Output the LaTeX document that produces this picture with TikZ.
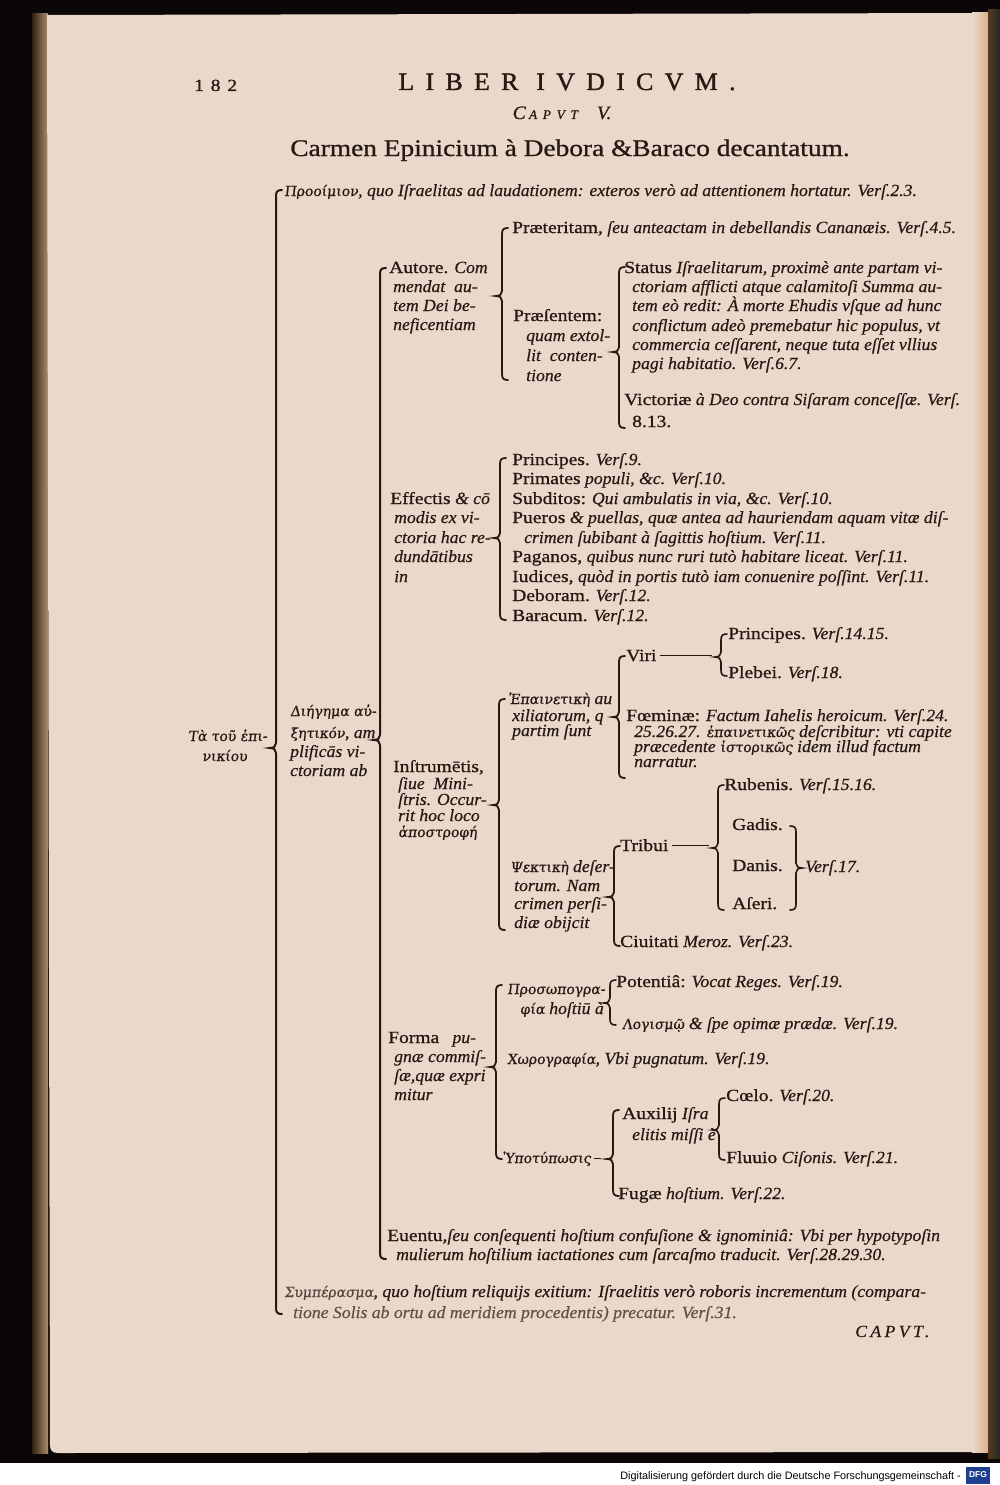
\documentclass[tikz,border=0pt]{standalone}
\usepackage{fontspec}
\setmainfont{Liberation Serif}[FakeStretch=1.04,FakeBold=0.5]
\newfontfamily\rmstr{Liberation Serif}[FakeStretch=1.15,FakeBold=0.9]
\newfontfamily\grk{DejaVu Serif}[FakeSlant=0.12,Scale=0.82,FakeBold=0.6]
\newfontfamily\dfgfont{Liberation Sans}
\newcommand\rr[1]{{\rmstr\upshape #1}}
\newcommand\gk[1]{{\grk\upshape #1}}
\definecolor{ink}{HTML}{261812}
\definecolor{paper}{HTML}{EAD8CA}
\definecolor{bgblack}{HTML}{0B0706}
\definecolor{dfgblue}{HTML}{1F3F8F}
\tikzset{
  t/.style={anchor=base west, inner sep=0pt, text=ink, font=\fontsize{17}{18}\selectfont\itshape},
  faded/.style={text=ink!70!paper},
  dl/.style={draw=ink, line width=1.2pt},
}
% left bracket: x, top, mid, bottom
\newcommand\brak[5][1.8pt]{\draw[line width=#1, draw=ink, line cap=round]
  (#2+6,#3) .. controls (#2+1.5,#3) and (#2,#3+1.5) .. (#2,#3+6) -- (#2,#4-5)
  .. controls (#2,#4-2) and (#2-2,#4) .. (#2-6,#4)
  .. controls (#2-2,#4) and (#2,#4+2) .. (#2,#4+5) -- (#2,#5-6)
  .. controls (#2,#5-1.5) and (#2+1.5,#5) .. (#2+6,#5);}
% right bracket: x, top, mid, bottom
\newcommand\rbrak[5][1.6pt]{\draw[line width=#1, draw=ink, line cap=round]
  (#2-6,#3) .. controls (#2-1.5,#3) and (#2,#3+1.5) .. (#2,#3+6) -- (#2,#4-5)
  .. controls (#2,#4-2) and (#2+2,#4) .. (#2+6,#4)
  .. controls (#2+2,#4) and (#2,#4+2) .. (#2,#4+5) -- (#2,#5-6)
  .. controls (#2,#5-1.5) and (#2-1.5,#5) .. (#2-6,#5);}
\begin{document}
\begin{tikzpicture}[x=1pt,y=-1pt]
\useasboundingbox (0,0) rectangle (1000,1485);
% ---- background, page, frame
\fill[bgblack] (0,0) rectangle (1000,1463);
\fill[white] (0,1463) rectangle (1000,1485);
\shade[left color=black!75!brown, right color=brown!45!paper!80!black] (32,14) rectangle (48,1453);
\fill[paper] (47,15) -- (986,13) -- (988,1452) -- (58,1453) .. controls (52,1453) and (50,1450) .. (50,1445) -- cycle;
\shade[left color=paper, right color=brown!45!paper] (972,13) rectangle (988,1452);
\shade[left color=brown!45!black, right color=black!85] (988,10) rectangle (1000,1458);
% ---- DFG strip
\node[anchor=base east, inner sep=0pt, font=\dfgfont\fontsize{10.8}{11}\selectfont] (dfgtxt) at (961,1479) {Digitalisierung gefördert durch die Deutsche Forschungsgemeinschaft -};
\node[fill=dfgblue, text=white, inner sep=0pt, minimum width=24pt, minimum height=17pt, font=\dfgfont\bfseries\fontsize{8.5}{8.5}\selectfont] (dfglogo) at (978,1475) {DFG};
% ---- header
\node[anchor=base west, inner sep=0pt, text=ink, font=\rmstr\fontsize{17}{17}\selectfont\addfontfeatures{LetterSpace=40}] (pagenum) at (194,91) {182};
\node[anchor=base, inner sep=0pt, text=ink, font=\fontsize{25}{25}\selectfont\addfontfeatures{LetterSpace=45,FakeBold=1.2}] (liber) at (567,90) {LIBER IVDICVM.};
\node[anchor=base, inner sep=0pt, text=ink, font=\fontsize{19}{19}\selectfont\itshape] (caput) at (562,119) {C\,{\fontsize{13}{13}\selectfont A\, P\, V\, T}\quad V.};
\node[anchor=base, inner sep=0pt, text=ink, font=\fontsize{23.8}{25}\selectfont\rmstr] (title) at (570,156) {Carmen Epinicium à Debora \&Baraco decantatum.};
% ---- brackets
\brak[2pt]{276}{190}{748}{1314}
\brak[2pt]{380}{268}{740}{1259}
\brak{502}{228}{296}{380}
\brak{619}{267}{352}{428}
\brak{500}{458}{538}{620}
\brak{499}{699}{805}{930}
\brak{619}{656}{717}{778}
\brak[1.6pt]{721}{634}{657}{676}
\brak{614}{846}{897}{946}
\brak[1.6pt]{718}{785}{848}{910}
\rbrak{796}{826}{868}{910}
\brak{496}{985}{1067}{1159}
\brak[1.6pt]{610}{980}{1003}{1025}
\brak[1.6pt]{719}{1098}{1130}{1160}
\brak{613}{1110}{1159}{1196}
% ---- root
\node[t] (ta1) at (188,741) {\gk{Τὰ τοῦ ἐπι-}};
\node[t] (ta2) at (202,761) {\gk{νικίου}};
\node[t] (proo) at (284,196) {\gk{Προοίμιον}, quo Iſraelitas ad laudationem: exteros verò ad attentionem hortatur. Verſ.2.3.};
\node[t] (dieg1) at (290,716) {\gk{Διήγημα αὐ-}};
\node[t] (dieg2) at (290,738) {\gk{ξητικόν}, am};
\node[t] (dieg3) at (290,757) {plificās vi-};
\node[t] (dieg4) at (290,776) {ctoriam ab};
% ---- Autore
\node[t] (aut1) at (389,273) {\rr{Autore.} Com};
\node[t] (aut2) at (393,292) {mendat \ au-};
\node[t] (aut3) at (393,311) {tem Dei be-};
\node[t] (aut4) at (393,330) {neficentiam};
\node[t] (praet) at (512,233) {\rr{Præteritam,} ſeu anteactam in debellandis Cananæis. Verſ.4.5.};
\node[t] (praes1) at (513,321) {\rr{Præſentem:}};
\node[t] (praes2) at (526,341) {quam extol-};
\node[t] (praes3) at (526,361) {lit \ conten-};
\node[t] (praes4) at (526,381) {tione};
\node[t] (stat1) at (624,273) {\rr{Status} Iſraelitarum, proximè ante partam vi-};
\node[t] (stat2) at (632,292) {ctoriam afflicti atque calamitoſi Summa au-};
\node[t] (stat3) at (632,311) {tem eò redit: À morte Ehudis vſque ad hunc};
\node[t] (stat4) at (632,331) {conflictum adeò premebatur hic populus, vt};
\node[t] (stat5) at (632,350) {commercia ceſſarent, neque tuta eſſet vllius};
\node[t] (stat6) at (632,369) {pagi habitatio. Verſ.6.7.};
\node[t] (vict1) at (624,405) {\rr{Victoriæ} à Deo contra Siſaram conceſſæ. Verſ.};
\node[t] (vict2) at (632,427) {\rr{8.13.}};
% ---- Effectis
\node[t] (eff1) at (390,504) {\rr{Effectis} \& cō};
\node[t] (eff2) at (394,523) {modis ex vi-};
\node[t] (eff3) at (394,543) {ctoria hac re-};
\node[t] (eff4) at (394,562) {dundātibus};
\node[t] (eff5) at (394,582) {in};
\node[t] (e1) at (512,465) {\rr{Principes.} Verſ.9.};
\node[t] (e2) at (512,484) {\rr{Primates} populi, \&c. Verſ.10.};
\node[t] (e3) at (512,504) {\rr{Subditos:} Qui ambulatis in via, \&c. Verſ.10.};
\node[t] (e4) at (512,523) {\rr{Pueros} \& puellas, quæ antea ad hauriendam aquam vitæ diſ-};
\node[t] (e4b) at (524,543) {crimen ſubibant à ſagittis hoſtium. Verſ.11.};
\node[t] (e5) at (512,562) {\rr{Paganos,} quibus nunc ruri tutò habitare liceat. Verſ.11.};
\node[t] (e6) at (512,582) {\rr{Iudices,} quòd in portis tutò iam conuenire poſſint. Verſ.11.};
\node[t] (e7) at (512,601) {\rr{Deboram.} Verſ.12.};
\node[t] (e8) at (512,621) {\rr{Baracum.} Verſ.12.};
% ---- Instrumentis
\node[t] (ins1) at (393,772) {\rr{Inſtrumētis,}};
\node[t] (ins2) at (398,789) {ſiue \ Mini-};
\node[t] (ins3) at (398,805) {ſtris. Occur-};
\node[t] (ins4) at (398,821) {rit hoc loco};
\node[t] (ins5) at (398,837) {\gk{ἀποστροφή}};
\node[t] (epa1) at (508,704) {\gk{Ἐπαινετικὴ} au};
\node[t] (epa2) at (512,721) {xiliatorum, q};
\node[t] (epa3) at (512,736) {partim ſunt};
\node[t] (viri) at (626,661) {\rr{Viri}};
\coordinate (vp) at (712,657);
\draw[dl] (viri.east) ++(3,0) coordinate (va) -- (va -| vp);
\node[t] (vpr) at (728,639) {\rr{Principes.} Verſ.14.15.};
\node[t] (vpl) at (728,678) {\rr{Plebei.} Verſ.18.};
\node[t] (foe1) at (626,721) {\rr{Fœminæ:} Factum Iahelis heroicum. Verſ.24.};
\node[t] (foe2) at (634,737) {25.26.27. \gk{ἐπαινετικῶς} deſcribitur: vti capite};
\node[t] (foe3) at (634,752) {præcedente \gk{ἱστορικῶς} idem illud factum};
\node[t] (foe4) at (634,767) {narratur.};
\node[t] (psk1) at (510,872) {\gk{Ψεκτικὴ} deſer-};
\node[t] (psk2) at (514,891) {torum. Nam};
\node[t] (psk3) at (514,909) {crimen perſi-};
\node[t] (psk4) at (514,928) {diæ obijcit};
\node[t] (trib) at (620,851) {\rr{Tribui}};
\coordinate (tp) at (709,848);
\draw[dl] (trib.east) ++(3,0) coordinate (ta) -- (ta -| tp);
\node[t] (rub) at (724,790) {\rr{Rubenis.} Verſ.15.16.};
\node[t] (gad) at (732,830) {\rr{Gadis.}};
\node[t] (dan) at (732,871) {\rr{Danis.}};
\node[t] (ase) at (732,909) {\rr{Aſeri.}};
\node[t] (v17) at (805,872) {Verſ.17.};
\node[t] (ciu) at (620,947) {\rr{Ciuitati} Meroz. Verſ.23.};
% ---- Forma
\node[t] (for1) at (388,1043) {\rr{Forma} \ \ pu-};
\node[t] (for2) at (394,1062) {gnæ commiſ-};
\node[t] (for3) at (394,1081) {ſæ,quæ expri};
\node[t] (for4) at (394,1100) {mitur};
\node[t] (pros1) at (507,994) {\gk{Προσωπογρα-}};
\node[t] (pros2) at (520,1014) {\gk{φία} hoſtiū à};
\node[t] (pot) at (616,987) {\rr{Potentiâ:} Vocat Reges. Verſ.19.};
\node[t] (log) at (622,1029) {\gk{Λογισμῷ} \& ſpe opimæ prædæ. Verſ.19.};
\node[t] (chor) at (507,1064) {\gk{Χωρογραφία}, Vbi pugnatum. Verſ.19.};
\node[t] (aux1) at (622,1119) {\rr{Auxilij} Iſra};
\node[t] (aux2) at (632,1140) {elitis miſſi è};
\node[t] (coel) at (726,1101) {\rr{Cœlo.} Verſ.20.};
\node[t] (fluu) at (726,1163) {\rr{Fluuio} Ciſonis. Verſ.21.};
\node[t] (hypo) at (502,1163) {\gk{Ὑποτύπωσις}};
\coordinate (hp) at (601,1159);
\draw[dl] (hypo.east) ++(3,0) coordinate (ha) -- (ha -| hp);
\node[t] (fug) at (618,1199) {\rr{Fugæ} hoſtium. Verſ.22.};
% ---- Euentu
\node[t] (eue1) at (387,1241) {\rr{Euentu,}ſeu conſequenti hoſtium confuſione \& ignominiâ: Vbi per hypotypoſin};
\node[t] (eue2) at (396,1260) {mulierum hoſtilium iactationes cum ſarcaſmo traducit. Verſ.28.29.30.};
% ---- Symperasma
\node[t] (sym1) at (284,1297) {{\color{ink!75!paper}\gk{Συμπέρασμα}}, quo hoſtium reliquijs exitium: Iſraelitis verò roboris incrementum (compara-};
\node[t,faded] (sym2) at (293,1318) {tione Solis ab ortu ad meridiem procedentis) precatur. Verſ.31.};
\node[t, font=\fontsize{17}{18}\selectfont\itshape\addfontfeatures{LetterSpace=20}] (capnext) at (855,1337) {CAPVT.};
\end{tikzpicture}
\end{document}
